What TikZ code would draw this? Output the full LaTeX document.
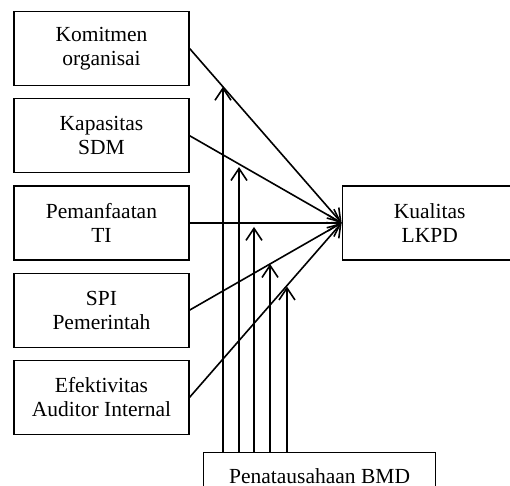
\documentclass[tikz,border=0pt]{standalone}
\usepackage{fontspec}
\setmainfont{Liberation Serif}
\usetikzlibrary{positioning,arrows.meta}

\begin{document}
\begin{tikzpicture}[x=1pt,y=-1pt,font=\fontsize{21.5pt}{24pt}\selectfont,ind/.style={draw,line width=1.2pt,align=center,minimum width=175pt,minimum height=74pt,inner sep=0pt},mod/.style={draw,line width=1.2pt,minimum width=232pt,inner sep=0pt,text height=31pt,text depth=42pt},arr/.style={line width=1.6pt,-{Straight Barb[length=12pt,width=16pt,line width=1.6pt]}}]
		\useasboundingbox (0,0) rectangle (510,485);
		\node[ind]								(kom)	at (101.5,48.5)	{Komitmen\\organisai};
		\node[ind,node distance=12pt,below=of kom]		(kap)		{Kapasitas\\SDM};
		\node[ind,node distance=12pt,below=of kap]		(pem)		{Pemanfaatan\\TI};
		\node[ind,node distance=12pt,below=of pem]		(spi)		{SPI\\Pemerintah};
		\node[ind,node distance=12pt,below=of spi]		(efe)		{Efektivitas\\Auditor Internal};
		\node[ind,node distance=152pt,right=of pem]		(kual)		{Kualitas\\LKPD};
		\node[mod,anchor=north west]				(pen)	at (203,452)	{Penatausahaan BMD};

		\foreach \src in {kom,kap,pem,spi,efe}
			\draw[arr] (\src.east) -- (kual.west);

		\foreach \src/\dx/\gap in {kom/20/0,kap/36/3,pem/51/4,spi/67/0,efe/84/1}{
			\coordinate (b\src) at ([xshift=\dx pt]pen.north west);
			\coordinate (t\src) at ([xshift=\dx pt,yshift=100pt]pen.north west);
			\draw[arr,shorten >=\gap pt] (b\src) -- (intersection of \src.east--kual.west and b\src--t\src);
		}
	\end{tikzpicture}
\end{document}
